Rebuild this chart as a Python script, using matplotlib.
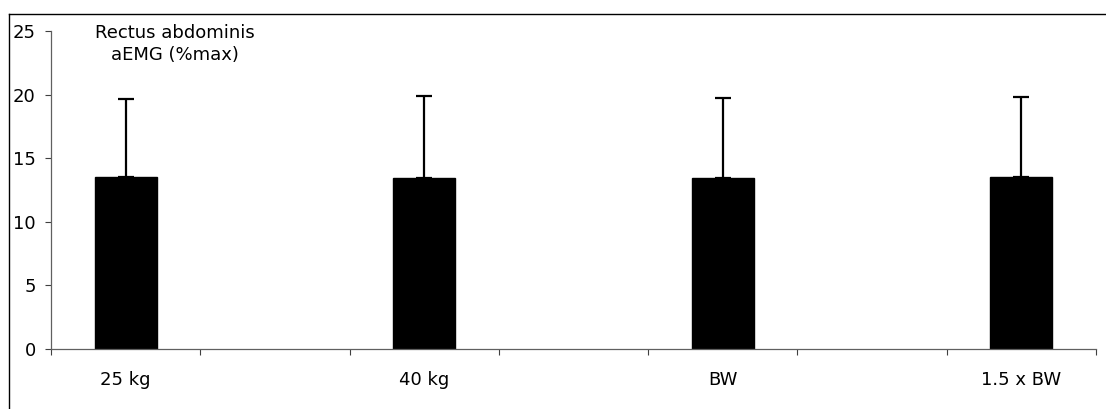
import numpy as np
import matplotlib
matplotlib.use("Agg")
import matplotlib.pyplot as plt
from matplotlib.lines import Line2D

plt.rcParams["font.family"] = ["DejaVu Sans"]

# Excel-style layout: empty categories between the loads
categories = ["25 kg", "", "40 kg", "", "BW", "", "1.5 x BW"]
means = [13.5, None, 13.45, None, 13.45, None, 13.5]
sds = [6.15, None, 6.45, None, 6.3, None, 6.35]

fig = plt.figure(figsize=(11.06, 4.09), dpi=100)
ax = fig.add_axes([0.0461, 0.1467, 0.9448, 0.7775])

idx = [i for i, m in enumerate(means) if m is not None]
x = np.array(idx, dtype=float)
y = np.array([means[i] for i in idx])
e = np.array([sds[i] for i in idx])

ax.bar(x, y, width=0.415, color="black", edgecolor="black", zorder=2)
ax.errorbar(x, y, yerr=[np.zeros_like(e), e], fmt="none", ecolor="black",
            elinewidth=1.6, capsize=6, capthick=1.6, zorder=3)

ax.set_xlim(-0.5, len(categories) - 0.5)
ax.set_ylim(0, 25)
ax.set_yticks(np.arange(0, 26, 5))

# tick marks at the category boundaries, labels in the middle
ax.set_xticks(np.arange(-0.5, len(categories), 1.0))
ax.set_xticklabels([])
ax.set_xticks(x, minor=True)
ax.set_xticklabels([categories[i] for i in idx], minor=True)
ax.tick_params(axis="x", which="major", direction="out", length=4, width=0.8, color="#404040")
ax.tick_params(axis="x", which="minor", length=0, pad=16, labelsize=13)
ax.tick_params(axis="y", direction="out", length=4, width=0.8, color="#404040", pad=7, labelsize=13)

for s in ("top", "right"):
    ax.spines[s].set_visible(False)
for s in ("left", "bottom"):
    ax.spines[s].set_color("#606060")
    ax.spines[s].set_linewidth(0.9)

fig.text(175 / 1106, 1 - 24 / 409, "Rectus abdominis\naEMG (%max)", ha="center", va="top",
         fontsize=13, linespacing=1.3)

# chart-area frame (only top and left edges visible in the crop)
fx, fy = 8.5 / 1106, 1 - 13.5 / 409
fig.add_artist(Line2D([fx, fx], [-0.1, fy], transform=fig.transFigure, color="black", lw=1))
fig.add_artist(Line2D([fx, 1.1], [fy, fy], transform=fig.transFigure, color="black", lw=1))

fig.savefig("out.png", dpi=100)
